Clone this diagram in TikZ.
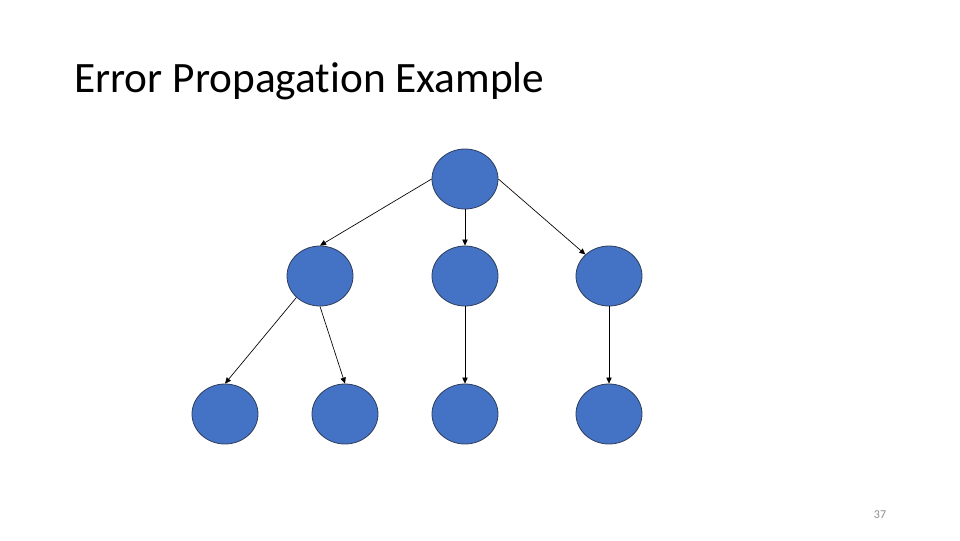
\documentclass[tikz,border=0pt]{standalone}
\usepackage{fontspec}
\setmainfont[Ligatures=NoCommon]{Carlito}
\usetikzlibrary{shapes.geometric,arrows.meta}
\definecolor{nodeblue}{HTML}{4472C4}
\definecolor{nodeline}{HTML}{2F3F5F}

\begin{document}
\begin{tikzpicture}[
  x=0.75pt, y=-0.75pt,
  vtx/.style={draw=nodeline, fill=nodeblue, ellipse, line width=0.6pt, inner sep=0pt,
    minimum width=49.5pt, minimum height=45pt},
  arr/.style={black, line width=0.5pt, -{Triangle[length=4.5pt,width=4pt]}},
  title/.style={anchor=base west, font=\fontsize{32.5}{38}\selectfont, inner sep=0pt},
  pagenum/.style={text=black!45, font=\fontsize{9}{10}\selectfont, inner sep=0pt},
]
\useasboundingbox (0,0) rectangle (960,540);

\node (title) [title] at (74,92) {Error Propagation Example};
\node (page) [pagenum] at (880,515) {37};

% tree
\node (root) [vtx] at (465,179) {};
\node (a) [vtx] at (320,276) {};
\node (b) [vtx] at (465,276) {};
\node (c) [vtx] at (609,276) {};
\node (a1) [vtx] at (225,414) {};
\node (a2) [vtx] at (345,414) {};
\node (b1) [vtx] at (465,414) {};
\node (c1) [vtx] at (609,414) {};

\draw[arr] (root.west) -- (a.north);
\draw[arr] (root.south) -- (b.north);
\draw[arr] (root.east) -- (c.north west);
\draw[arr] (a.south west) -- (a1.north);
\draw[arr] (a.south) -- (a2.north);
\draw[arr] (b.south) -- (b1.north);
\draw[arr] (c.south) -- (c1.north);
\end{tikzpicture}
\end{document}
